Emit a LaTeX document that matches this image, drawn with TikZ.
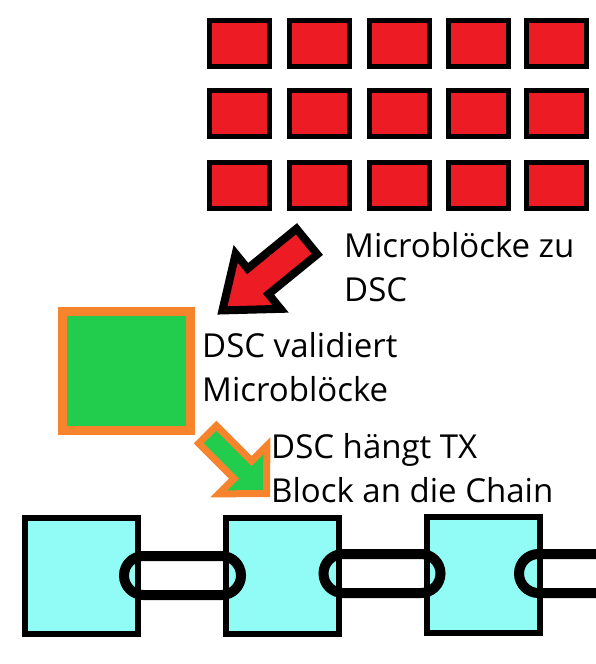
\documentclass[tikz,border=0pt]{standalone}
\usepackage{xcolor}
\usepackage{fontspec}
\setmainfont{Open Sans}
\usepackage{tikz}
\usetikzlibrary{shapes.geometric}
\usetikzlibrary{arrows,shapes}
\definecolor{mred}{RGB}{237,28,36}
\definecolor{dscgreen}{RGB}{34,204,76}
\definecolor{dscorange}{RGB}{247,131,44}
\definecolor{chaincyan}{RGB}{145,252,245}

\begin{document}
\begin{tikzpicture}[x=1pt,y=-1pt]
    \useasboundingbox (0,0) rectangle (596,664);
    \tikzstyle{micro}=[rectangle, draw=black, fill=mred, line width=5pt,
    minimum width=60pt, minimum height=46pt, inner sep=0pt]
    \tikzstyle{dscbox}=[rectangle, draw=dscorange, fill=dscgreen, line width=9pt,
    minimum width=128pt, minimum height=119pt, inner sep=0pt]
    \tikzstyle{chainblock}=[rectangle, draw=black, fill=chaincyan, line width=6pt,
    minimum width=113pt, minimum height=116pt, inner sep=0pt]
    \tikzstyle{chainlink}=[rectangle, draw=black, line width=10pt, rounded corners=19.5pt,
    minimum width=117pt, minimum height=39pt, inner sep=0pt]
    \tikzstyle{lbl}=[font=\fontsize{33}{44}\selectfont, align=left, inner sep=0pt, anchor=base west]

    % microblocks
    \foreach \x [count=\i] in {239,319,399,478,556}
        \foreach \y [count=\j] in {43.5,113.5,185.5}
            \node[micro](m\j\i) at (\x,\y){};

    \draw[draw=black, fill=mred, line width=8pt, miter limit=20, shift={(310,239)}, rotate=219.2]
    (4,16.5) -- (67,16.5) -- (67,35.5) -- (113,0) -- (67,-35.5) -- (67,-16.5) -- (4,-16.5) -- cycle;
    \node[lbl](t1) at (344,301){Microblöcke zu\\DSC};

    \node[dscbox](dsc) at (126.5,371){};
    \node[lbl](t2) at (202,401){DSC validiert\\Microblöcke};

    \draw[draw=dscorange, fill=dscgreen, line width=7pt, miter limit=20, shift={(205,432)}, rotate=-45]
    (3.5,12.5) -- (53.5,12.5) -- (53.5,34) -- (87,0) -- (53.5,-34) -- (53.5,-12.5) -- (3.5,-12.5) -- cycle;
    \node[lbl](t3) at (271,502){DSC hängt TX\\Block an die Chain};

    % the chain
    \node[chainblock](b1) at (81.5,576){};
    \node[chainblock](b2) at (282.5,576){};
    \node[chainblock](b3) at (483,575){};

    \node[chainlink](l1) at (182.5,575.5){};
    \node[chainlink](l2) at (382,573.5){};
    \node[chainlink](l3) at (577.5,573.5){};
\end{tikzpicture}
\end{document}
